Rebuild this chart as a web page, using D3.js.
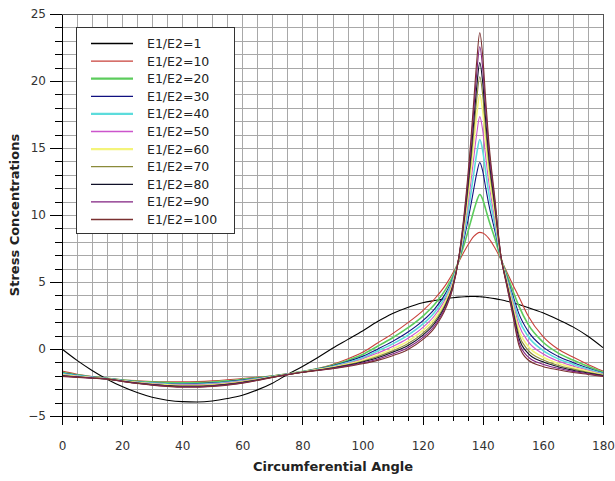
<!DOCTYPE html>
<html>
<head>
<meta charset="utf-8">
<script src="https://cdn.jsdelivr.net/npm/d3@7/dist/d3.min.js"></script>
<style>
body { margin: 0; background: #fff; }
svg { font-family: "DejaVu Sans", Verdana, sans-serif; }
</style>
</head>
<body>
<script>
// circumferential angle (deg)
const angles = [0, 5, 10, 15, 20, 25, 30, 35, 40, 45, 50, 55, 60, 65, 70, 75, 80, 85, 90, 95, 100, 105, 110, 115, 120,
    124, 128, 130, 132, 134, 136, 137, 138, 139, 140, 141, 142, 144, 146, 148, 150, 152, 155, 160, 165, 170, 175, 180];

const s1 = [0, -0.85, -1.6, -2.25, -2.8, -3.25, -3.6, -3.82, -3.93, -3.95, -3.88, -3.7, -3.45, -3.05, -2.55, -1.9, -1.3, -0.65, 0.05, 0.7, 1.35, 2.05, 2.65, 3.1, 3.45,
    3.62, 3.76, 3.82, 3.87, 3.9, 3.92, 3.92, 3.91, 3.9, 3.88, 3.86, 3.83, 3.76, 3.67, 3.57, 3.45, 3.32, 3.1, 2.7, 2.2, 1.65, 0.95, 0.1];
const s10 = [-1.65, -1.88, -2.05, -2.18, -2.3, -2.37, -2.42, -2.45, -2.45, -2.43, -2.38, -2.3, -2.2, -2.1, -2.0, -1.85, -1.68, -1.45, -1.15, -0.75, -0.25, 0.45, 1.15, 1.95, 2.85,
    3.75, 4.9, 5.65, 6.5, 7.35, 8.1, 8.4, 8.6, 8.7, 8.65, 8.5, 8.25, 7.55, 6.7, 5.75, 4.8, 3.9, 2.5, 0.95, 0.0, -0.6, -1.15, -1.65];
const s20 = [-1.73, -1.93, -2.07, -2.19, -2.32, -2.41, -2.47, -2.51, -2.53, -2.51, -2.46, -2.38, -2.27, -2.15, -2.02, -1.86, -1.69, -1.48, -1.21, -0.85, -0.41, 0.2, 0.84, 1.57, 2.44,
    3.34, 4.58, 5.43, 6.56, 7.95, 9.51, 10.32, 11.05, 11.53, 11.15, 10.4, 9.63, 8.26, 6.76, 5.55, 4.36, 3.22, 1.87, 0.52, -0.29, -0.82, -1.29, -1.73];
const s30 = [-1.79, -1.96, -2.1, -2.2, -2.34, -2.44, -2.52, -2.57, -2.59, -2.58, -2.53, -2.44, -2.32, -2.19, -2.04, -1.87, -1.7, -1.5, -1.26, -0.94, -0.55, -0.01, 0.57, 1.25, 2.1,
    3.0, 4.3, 5.25, 6.6, 8.45, 10.69, 11.94, 13.12, 13.92, 13.25, 12.0, 10.79, 8.86, 6.8, 5.38, 4.0, 2.64, 1.35, 0.16, -0.54, -1.0, -1.41, -1.79];
const s40 = [-1.84, -1.99, -2.11, -2.21, -2.36, -2.47, -2.55, -2.61, -2.64, -2.63, -2.58, -2.49, -2.36, -2.22, -2.06, -1.88, -1.71, -1.52, -1.3, -1.01, -0.65, -0.15, 0.38, 1.02, 1.85,
    2.75, 4.11, 5.12, 6.64, 8.81, 11.54, 13.1, 14.6, 15.63, 14.77, 13.15, 11.62, 9.29, 6.84, 5.26, 3.73, 2.23, 0.97, -0.1, -0.72, -1.13, -1.5, -1.84];
const s50 = [-1.88, -2.02, -2.12, -2.22, -2.37, -2.49, -2.58, -2.65, -2.68, -2.67, -2.62, -2.53, -2.4, -2.24, -2.07, -1.89, -1.71, -1.54, -1.34, -1.07, -0.74, -0.3, 0.19, 0.79, 1.6,
    2.5, 3.91, 4.98, 6.67, 9.18, 12.39, 14.26, 16.08, 17.34, 16.28, 14.3, 12.46, 9.73, 6.87, 5.14, 3.47, 1.81, 0.59, -0.36, -0.9, -1.27, -1.59, -1.88];
const s60 = [-1.93, -2.05, -2.14, -2.23, -2.38, -2.51, -2.61, -2.68, -2.73, -2.72, -2.67, -2.58, -2.44, -2.27, -2.08, -1.9, -1.72, -1.55, -1.37, -1.13, -0.84, -0.45, 0.01, 0.57, 1.37,
    2.27, 3.73, 4.86, 6.71, 9.52, 13.21, 15.37, 17.5, 18.98, 17.72, 15.4, 13.25, 10.14, 6.91, 5.03, 3.21, 1.42, 0.22, -0.6, -1.07, -1.39, -1.67, -1.93];
const s70 = [-1.96, -2.07, -2.15, -2.23, -2.39, -2.53, -2.64, -2.72, -2.76, -2.76, -2.71, -2.61, -2.47, -2.29, -2.09, -1.9, -1.73, -1.57, -1.4, -1.18, -0.91, -0.56, -0.14, 0.39, 1.17,
    2.07, 3.57, 4.75, 6.73, 9.81, 13.87, 16.28, 18.66, 20.32, 18.91, 16.3, 13.91, 10.48, 6.93, 4.93, 3.01, 1.09, -0.07, -0.81, -1.21, -1.5, -1.74, -1.96];
const s80 = [-1.99, -2.08, -2.16, -2.24, -2.4, -2.55, -2.66, -2.74, -2.79, -2.79, -2.74, -2.64, -2.5, -2.31, -2.1, -1.91, -1.73, -1.58, -1.42, -1.22, -0.97, -0.66, -0.25, 0.25, 1.02,
    1.92, 3.46, 4.67, 6.76, 10.03, 14.39, 16.99, 19.57, 21.37, 19.83, 17.0, 14.41, 10.74, 6.96, 4.86, 2.85, 0.84, -0.31, -0.96, -1.32, -1.58, -1.79, -1.99];
const s90 = [-2.02, -2.1, -2.17, -2.24, -2.41, -2.56, -2.68, -2.77, -2.82, -2.82, -2.77, -2.67, -2.53, -2.33, -2.11, -1.91, -1.74, -1.59, -1.45, -1.26, -1.04, -0.76, -0.38, 0.09, 0.85,
    1.75, 3.32, 4.58, 6.78, 10.28, 14.98, 17.79, 20.6, 22.56, 20.88, 17.8, 14.99, 11.04, 6.98, 4.77, 2.66, 0.55, -0.57, -1.14, -1.44, -1.67, -1.85, -2.02];
const s100 = [-2.05, -2.12, -2.18, -2.25, -2.42, -2.58, -2.7, -2.79, -2.85, -2.85, -2.8, -2.7, -2.55, -2.35, -2.12, -1.92, -1.74, -1.6, -1.47, -1.3, -1.1, -0.85, -0.5, -0.05, 0.7,
    1.6, 3.2, 4.5, 6.8, 10.5, 15.5, 18.5, 21.5, 23.6, 21.8, 18.5, 15.5, 11.3, 7.0, 4.7, 2.5, 0.3, -0.8, -1.3, -1.55, -1.75, -1.9, -2.05];

const seriesNames = ["E1/E2=1", "E1/E2=10", "E1/E2=20", "E1/E2=30", "E1/E2=40", "E1/E2=50",
    "E1/E2=60", "E1/E2=70", "E1/E2=80", "E1/E2=90", "E1/E2=100"];
const seriesValues = [s1, s10, s20, s30, s40, s50, s60, s70, s80, s90, s100];
const colors = ["#000000", "#c8403a", "#5ccc5c", "#101080", "#5cdcdc", "#cc55cc",
    "#f4f47a", "#8a8a3a", "#101028", "#802080", "#7a3030"];

const xTicks = [0, 20, 40, 60, 80, 100, 120, 140, 160, 180];
const yTicks = [-5, 0, 5, 10, 15, 20, 25];

const W = 615, H = 481;

let svg = d3.select("body").append("svg")
    .attr("width", W)
    .attr("height", H);

let x = d3.scaleLinear().domain([0, 180]).range([62, 603]);
let y = d3.scaleLinear().domain([-5, 25]).range([416, 14]);

// grid
let grid = svg.append("g").attr("shape-rendering", "crispEdges");
grid.selectAll(".vg")
    .data(d3.range(5, 180, 5))
    .join("line")
    .attr("x1", d => Math.round(x(d)) + 0.5).attr("x2", d => Math.round(x(d)) + 0.5)
    .attr("y1", y(25)).attr("y2", y(-5))
    .style("stroke", "#a8a8a8");
grid.selectAll(".hg")
    .data(d3.range(-4, 25, 1))
    .join("line")
    .attr("y1", d => Math.round(y(d)) + 0.5).attr("y2", d => Math.round(y(d)) + 0.5)
    .attr("x1", x(0)).attr("x2", x(180))
    .style("stroke", "#a8a8a8");

// frame top / right
svg.append("path")
    .attr("d", `M${x(0)},${y(25) + 0.5}H${x(180) + 0.5}V${y(-5)}`)
    .attr("fill", "none")
    .attr("stroke", "#555")
    .attr("shape-rendering", "crispEdges");

// curves
let line = d3.line()
    .x((d, i) => x(angles[i]))
    .y(d => y(d))
    .curve(d3.curveMonotoneX);

svg.append("g")
    .selectAll("path")
    .data(seriesValues)
    .join("path")
    .attr("d", d => line(d))
    .attr("fill", "none")
    .attr("stroke", (d, i) => colors[i])
    .attr("stroke-width", (d, i) => (i === 2 || i === 4 || i === 6) ? 1.6 : 1.1)
    .attr("stroke-linejoin", "round");

// axes
let xAxis = svg.append("g")
    .attr("transform", `translate(0,${y(-5)})`)
    .call(d3.axisBottom(x).tickValues(xTicks).tickSize(9).tickPadding(16).tickSizeOuter(0));
svg.append("g")
    .attr("transform", `translate(0,${y(-5)})`)
    .call(d3.axisBottom(x).tickValues(d3.range(0, 181, 5)).tickSize(5).tickFormat("").tickSizeOuter(0));
let yAxis = svg.append("g")
    .attr("transform", `translate(${x(0)},0)`)
    .call(d3.axisLeft(y).tickValues(yTicks).tickSize(12).tickPadding(4).tickSizeOuter(0));
svg.append("g")
    .attr("transform", `translate(${x(0)},0)`)
    .call(d3.axisLeft(y).tickValues(d3.range(-5, 26, 1)).tickSize(7).tickFormat("").tickSizeOuter(0));

svg.selectAll(".domain, .tick line").attr("stroke", "#000").attr("shape-rendering", "crispEdges");
svg.selectAll(".tick text")
    .style("font-family", "DejaVu Sans, Verdana, sans-serif")
    .style("font-size", "12px")
    .attr("fill", "#333");

// axis titles
svg.append("text")
    .attr("x", 333).attr("y", 471)
    .attr("text-anchor", "middle")
    .style("font-size", "13px").style("font-weight", "bold")
    .attr("fill", "#222")
    .text("Circumferential Angle");
svg.append("text")
    .attr("transform", "translate(19,215) rotate(-90)")
    .attr("text-anchor", "middle")
    .style("font-size", "13px").style("font-weight", "bold")
    .attr("fill", "#222")
    .text("Stress Concentrations");

// legend
let legend = svg.append("g");
legend.append("rect")
    .attr("x", 76.5).attr("y", 27.5)
    .attr("width", 158).attr("height", 206)
    .attr("fill", "#fff")
    .attr("stroke", "#333");
let rows = legend.selectAll(".row")
    .data(seriesNames)
    .join("g")
    .attr("transform", (d, i) => `translate(0,${43.5 + i * 17.6})`);
rows.append("line")
    .attr("x1", 91).attr("x2", 133)
    .attr("stroke", (d, i) => colors[i])
    .attr("stroke-width", (d, i) => (i === 2 || i === 4 || i === 6) ? 2.2 : 1.3);
rows.append("text")
    .attr("x", 147).attr("dy", "0.36em")
    .style("font-size", "12.5px")
    .attr("fill", "#222")
    .text(d => d);
</script>
</body>
</html>
